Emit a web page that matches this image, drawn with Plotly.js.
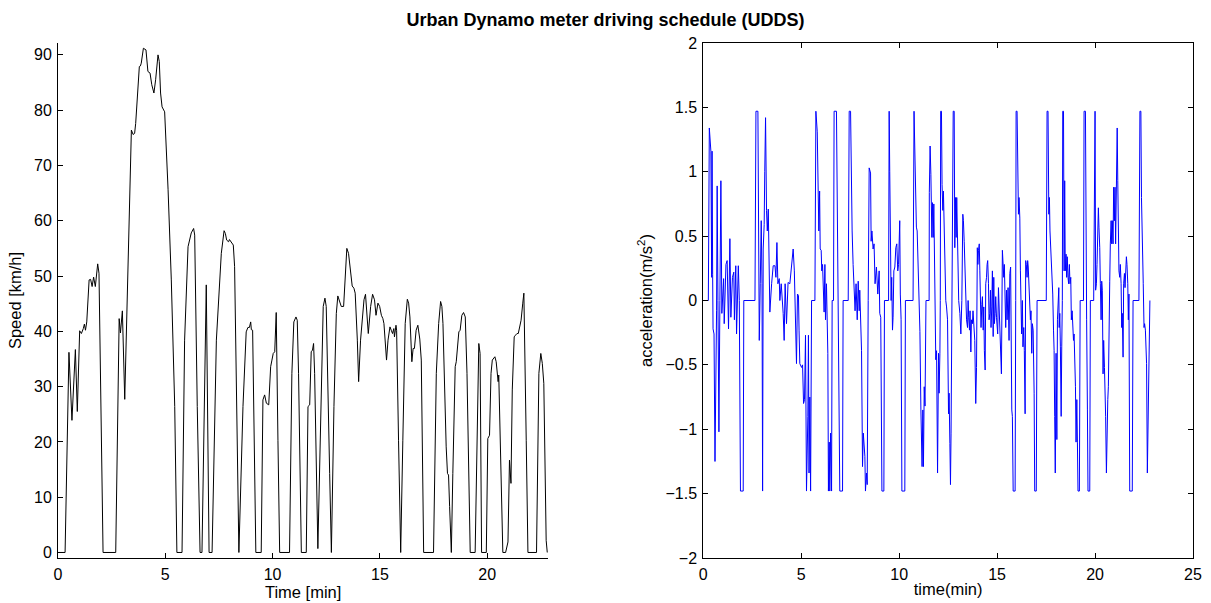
<!DOCTYPE html>
<html>
<head>
<meta charset="utf-8">
<script src="https://cdn.plot.ly/plotly-3.0.1.min.js"></script>
<style>
  html, body { margin: 0; padding: 0; background: #fff; }
  #chart { width: 1211px; height: 603px; }
</style>
</head>
<body>
<div id="chart"></div>
<script>
// UDDS speed trace: time in minutes, speed in km/h
const speedTimeMin = [
  0, 0.33, 0.51, 0.65, 0.81, 0.90, 1.01, 1.09, 1.18, 1.23, 1.28, 1.34, 1.45, 1.52, 1.59, 1.66, 1.74, 1.85, 1.91, 2.10,
  2.69, 2.85, 2.91, 3.00, 3.11, 3.42, 3.50, 3.57, 3.62, 3.73, 3.79, 3.84, 3.88, 3.98, 4.10, 4.19, 4.29, 4.37, 4.47, 4.55,
  4.66, 4.72, 4.78, 4.85, 4.97, 5.13, 5.28, 5.44, 5.54, 5.78, 5.90, 6.06, 6.10, 6.15, 6.21, 6.32, 6.37, 6.49, 6.62, 6.71,
  6.91, 7.04, 7.18, 7.38, 7.61, 7.74, 7.80, 7.86, 7.95, 7.99, 8.08, 8.17, 8.23, 8.36, 8.43, 8.62, 8.77, 8.85, 8.92, 8.98,
  9.01, 9.07, 9.16, 9.22, 9.47, 9.55, 9.63, 9.71, 9.82, 9.91, 9.97, 10.03, 10.10, 10.17, 10.25, 10.33, 10.79, 10.90, 10.99, 11.09,
  11.15, 11.21, 11.34, 11.57, 11.65, 11.73, 11.80, 11.86, 11.91, 11.96, 12.11, 12.27, 12.36, 12.44, 12.50, 12.66, 12.74, 12.86, 12.97, 13.04,
  13.12, 13.20, 13.31, 13.39, 13.46, 13.54, 13.63, 13.71, 13.79, 13.85, 13.95, 14.01, 14.10, 14.18, 14.26, 14.33, 14.39, 14.46, 14.57, 14.66,
  14.75, 14.82, 14.91, 14.99, 15.07, 15.14, 15.19, 15.25, 15.31, 15.38, 15.47, 15.53, 15.59, 15.65, 15.68, 15.75, 15.78, 15.87, 15.97, 16.07,
  16.18, 16.28, 16.34, 16.40, 16.49, 16.55, 16.61, 16.69, 16.77, 16.86, 16.93, 17.04, 17.50, 17.63, 17.74, 17.83, 17.89, 17.94, 18.02, 18.09,
  18.15, 18.20, 18.25, 18.33, 18.40, 18.51, 18.56, 18.63, 18.68, 18.74, 18.82, 18.90, 18.98, 19.06, 19.15, 19.21, 19.44, 19.61, 19.67, 19.74,
  19.96, 20.03, 20.11, 20.18, 20.24, 20.30, 20.36, 20.42, 20.48, 20.51, 20.54, 20.65, 20.73, 20.86, 20.92, 20.97, 21.04, 21.11, 21.17, 21.26,
  21.32, 21.39, 21.45, 21.51, 21.58, 21.66, 21.71, 21.82, 21.90, 22.30, 22.41, 22.50, 22.57, 22.64, 22.75, 22.80
];
const speedKmh = [
  0, 0, 36.2, 23.9, 36.7, 25.5, 40.1, 39.6, 40.5, 41.3, 40.2, 41.7, 49.3, 49.4, 48.1, 49.8, 48.1, 52.2, 50.5, 0,
  0, 42.3, 39.7, 43.7, 27.7, 76.4, 75.6, 75.8, 77.6, 83.7, 87.9, 88.0, 88.5, 91.2, 90.9, 87.0, 86.7, 84.6, 83.1, 85.5,
  90.0, 88.8, 83.1, 80.6, 79.7, 65.6, 49.3, 26.4, 0, 0, 38.4, 55.3, 55.9, 56.5, 57.8, 58.6, 57.4, 26.4, 0, 0,
  48.4, 0, 0, 38.4, 54.1, 58.2, 57.7, 56.5, 56.2, 56.6, 56.0, 55.6, 51.7, 20.3, 0, 26.4, 39.9, 40.7, 40.7, 41.7,
  40.3, 40.2, 20.3, 0, 0, 27.6, 28.5, 27.0, 26.7, 33.6, 34.8, 36.0, 36.3, 43.4, 20.3, 0, 0, 32.4, 41.7, 42.6,
  42.0, 32.4, 0, 0, 26.4, 26.7, 36.3, 36.6, 37.8, 32.4, 0.7, 32.4, 44.5, 46.0, 44.5, 14.3, 0, 26.4, 43.2, 46.4,
  45.4, 44.5, 44.5, 50.5, 55.0, 54.1, 51.1, 48.2, 47.8, 46.9, 38.4, 30.9, 38.4, 42.6, 45.7, 46.7, 43.8, 39.6, 44.5, 46.7,
  45.7, 42.9, 45.1, 44.5, 42.9, 42.3, 41.4, 38.4, 34.8, 38.4, 40.8, 40.2, 39.6, 40.5, 39.0, 41.1, 40.2, 20.3, 0, 20.3,
  41.4, 45.8, 45.1, 42.6, 34.5, 36.9, 36.9, 40.2, 41.1, 38.6, 34.8, 0, 0, 32.4, 41.4, 45.4, 44.5, 41.4, 26.4, 19.1,
  14.3, 14.0, 8.3, 0, 14.3, 33.6, 34.5, 38.4, 39.9, 40.2, 42.9, 43.4, 42.6, 32.4, 14.3, 0, 0, 37.8, 36.0, 0,
  0, 20.6, 21.2, 32.4, 34.8, 35.1, 35.4, 34.5, 32.1, 30.9, 32.1, 14.3, 0, 0, 1.3, 1.9, 16.7, 12.5, 29.4, 39.0,
  39.3, 39.6, 39.6, 40.8, 42.0, 45.1, 46.9, 20.3, 0, 0, 32.4, 36.0, 34.2, 30.6, 2.2, 0
];

// Acceleration trace: time in minutes, acceleration in m/s^2
const accelTimeMin = [
  0, 0.26, 0.31, 0.34, 0.39, 0.43, 0.45, 0.48, 0.50, 0.55, 0.60, 0.68, 0.71, 0.75, 0.80, 0.85, 0.90, 0.95, 1.00, 1.04,
  1.07, 1.12, 1.16, 1.22, 1.29, 1.36, 1.41, 1.49, 1.56, 1.59, 1.66, 1.70, 1.79, 1.84, 1.90, 2.04, 2.07, 2.64, 2.69, 2.79,
  2.83, 2.86, 2.91, 2.96, 3.00, 3.03, 3.06, 3.11, 3.14, 3.18, 3.23, 3.27, 3.32, 3.37, 3.40, 3.49, 3.57, 3.66, 3.71, 3.76,
  3.81, 3.88, 3.91, 3.98, 4.08, 4.13, 4.18, 4.25, 4.33, 4.42, 4.50, 4.59, 4.65, 4.70, 4.76, 4.81, 4.86, 4.89, 4.93, 5.02,
  5.07, 5.12, 5.17, 5.22, 5.27, 5.34, 5.37, 5.40, 5.44, 5.48, 5.53, 5.70, 5.75, 5.82, 5.87, 5.90, 5.94, 5.97, 6.02, 6.05,
  6.09, 6.12, 6.17, 6.21, 6.24, 6.29, 6.36, 6.39, 6.43, 6.46, 6.50, 6.55, 6.58, 6.65, 6.68, 6.80, 6.84, 6.87, 6.90, 6.97,
  7.11, 7.14, 7.40, 7.45, 7.52, 7.55, 7.60, 7.65, 7.70, 7.75, 7.80, 7.86, 7.91, 7.96, 7.99, 8.04, 8.08, 8.13, 8.17, 8.25,
  8.28, 8.33, 8.37, 8.42, 8.47, 8.54, 8.57, 8.61, 8.64, 8.67, 8.72, 8.77, 8.84, 8.91, 8.98, 9.01, 9.06, 9.12, 9.22, 9.25,
  9.46, 9.49, 9.52, 9.56, 9.59, 9.62, 9.66, 9.69, 9.73, 9.78, 9.83, 9.88, 9.93, 9.97, 10.03, 10.06, 10.10, 10.14, 10.29, 10.32,
  10.71, 10.76, 10.81, 10.85, 10.88, 10.92, 10.97, 11.02, 11.06, 11.11, 11.17, 11.21, 11.24, 11.28, 11.32, 11.37, 11.53, 11.54, 11.58, 11.62,
  11.65, 11.67, 11.70, 11.74, 11.77, 11.80, 11.83, 11.87, 11.91, 11.96, 12.01, 12.04, 12.08, 12.10, 12.12, 12.16, 12.19, 12.23, 12.26, 12.31,
  12.35, 12.38, 12.42, 12.47, 12.52, 12.55, 12.59, 12.62, 12.65, 12.70, 12.76, 12.81, 12.84, 12.88, 12.91, 12.94, 12.98, 13.01, 13.04, 13.10,
  13.15, 13.20, 13.25, 13.28, 13.32, 13.35, 13.39, 13.42, 13.44, 13.49, 13.52, 13.55, 13.59, 13.62, 13.66, 13.69, 13.74, 13.77, 13.83, 13.86,
  13.91, 13.95, 13.99, 14.02, 14.05, 14.09, 14.12, 14.15, 14.18, 14.22, 14.25, 14.29, 14.32, 14.35, 14.39, 14.42, 14.46, 14.49, 14.52, 14.56,
  14.59, 14.63, 14.66, 14.69, 14.73, 14.76, 14.80, 14.83, 14.86, 14.90, 14.93, 14.97, 15.03, 15.07, 15.14, 15.19, 15.22, 15.27, 15.31, 15.34,
  15.37, 15.41, 15.44, 15.48, 15.51, 15.56, 15.61, 15.65, 15.69, 15.75, 15.78, 15.82, 15.92, 15.95, 15.97, 16.02, 16.05, 16.09, 16.12, 16.16,
  16.19, 16.22, 16.25, 16.29, 16.32, 16.36, 16.39, 16.43, 16.46, 16.49, 16.53, 16.56, 16.59, 16.63, 16.66, 16.70, 16.73, 16.77, 16.80, 16.84,
  16.89, 16.92, 17.00, 17.04, 17.51, 17.55, 17.60, 17.64, 17.67, 17.70, 17.74, 17.77, 17.81, 17.84, 17.88, 17.91, 17.94, 17.97, 18.01, 18.05,
  18.08, 18.12, 18.15, 18.17, 18.20, 18.23, 18.27, 18.30, 18.33, 18.35, 18.39, 18.42, 18.45, 18.48, 18.52, 18.55, 18.58, 18.62, 18.65, 18.69,
  18.72, 18.76, 18.79, 18.83, 18.86, 18.90, 18.93, 18.97, 19.00, 19.03, 19.07, 19.10, 19.13, 19.20, 19.24, 19.41, 19.44, 19.51, 19.54, 19.57,
  19.61, 19.64, 19.73, 19.76, 19.93, 19.97, 20.00, 20.03, 20.07, 20.10, 20.14, 20.17, 20.20, 20.24, 20.27, 20.31, 20.34, 20.37, 20.41, 20.44,
  20.48, 20.51, 20.54, 20.58, 20.61, 20.65, 20.68, 20.71, 20.75, 20.78, 20.82, 20.85, 20.88, 20.92, 20.95, 20.99, 21.02, 21.05, 21.09, 21.13,
  21.16, 21.19, 21.22, 21.26, 21.29, 21.33, 21.36, 21.39, 21.43, 21.46, 21.50, 21.53, 21.56, 21.60, 21.63, 21.67, 21.70, 21.73, 21.77, 21.90,
  21.94, 22.24, 22.29, 22.34, 22.37, 22.40, 22.43, 22.46, 22.50, 22.53, 22.57, 22.60, 22.63, 22.67, 22.70, 22.74, 22.77, 22.80
];
const accelMs2 = [
  0, 0, 1.34, 1.29, 1.16, 0.18, 1.16, 0.20, -0.22, -0.26, -1.25, -0.08, 0.89, 0, -1.02, 0, 0.93, -0.10, 0.08, 0.17,
  -0.18, 0.22, 0.28, 0.31, -0.22, 0.48, -0.13, 0.18, 0.22, -0.15, 0.27, -0.26, 0.27, 0, -1.48, -1.48, 0, 0, 1.47, 1.47,
  0.28, -0.31, 0.13, 0.62, 0.13, -1.48, 0.40, 0.59, 1.00, 1.42, 0.70, 0.54, 0.71, 0.28, -0.09, 0.13, 0.27, 0.27, 0.18, 0.45,
  0.13, 0.17, 0, 0.13, -0.10, -0.31, 0.13, -0.18, 0.14, 0.13, 0.27, 0.40, 0.23, -0.15, -0.49, 0.05, 0.04, -0.23, -0.49, -0.52,
  -0.50, -0.80, -0.77, -0.27, -1.48, -0.90, -0.27, -1.34, -0.75, -1.48, 0, 0, 1.47, 1.31, 0.85, 0.54, 0.85, 0.40, 0.39, 0.23,
  0.28, 0.13, -0.09, 0.28, -0.15, 0.13, -0.41, -1.48, -1.10, -1.48, -1.03, -1.48, 0, 0, 1.47, 1.47, 0.85, 0.28, -0.15, -1.48,
  -1.48, 0, 0, 1.47, 1.47, 1.00, 0.54, 0.28, 0.10, -0.08, 0.13, -0.15, 0.15, -0.08, 0.08, -0.18, -0.39, -1.29, -1.03, -1.21,
  -1.48, -1.34, -1.43, 0, 1.03, 0.99, 0.46, 0.54, 0.46, 0.40, 0.44, 0.13, 0.26, 0.05, 0.23, -0.10, -0.13, -1.48, -1.48, 0,
  0, 1.47, 1.00, 0.28, 0, 0.18, -0.23, -0.13, 0.23, 0.26, 0.41, 0.44, 0.23, 0.28, 0.62, 0.05, -0.15, -1.48, -1.48, 0,
  0, 1.47, 1.06, 0.98, 0.57, 0.54, 0.18, 0.08, -0.24, -0.85, -1.29, -0.85, -1.29, -0.67, -0.82, 0, 0, 0.84, 1.20, 0.98,
  0.80, 0.49, 0.76, 0.49, 0.75, 0.28, 0.13, -0.46, -0.39, -1.34, -0.41, -0.72, -0.41, 0, 1.47, 1.47, 0.90, 0.70, 0.85, 0.39,
  0.18, 0, -0.05, -0.15, -0.88, -0.72, -1.11, -1.43, -1.03, 0, 1.47, 1.47, 0.41, 0.80, 0.49, 0.80, 0.28, 0.26, 0, -0.10,
  -0.26, 0, 0.67, 0.62, 0.46, 0.28, 0.26, 0, -0.15, -0.21, 0, -0.13, -0.23, -0.08, -0.40, -0.15, -0.18, -0.08, -0.30, -0.31,
  -0.80, -0.52, 0.41, 0.28, 0.39, 0.44, 0.23, 0, -0.21, -0.03, 0.03, -0.23, -0.05, -0.39, -0.54, 0.13, 0.18, 0.28, 0.31, 0.13,
  -0.15, -0.10, 0.08, -0.21, -0.05, 0.23, -0.28, 0.18, -0.18, -0.10, 0.03, -0.13, -0.26, 0.10, -0.15, -0.34, -0.57, 0.39, 0.23, 0.18,
  0.28, -0.10, -0.21, 0.08, -0.15, 0.10, -0.31, 0.21, 0.26, -0.85, -0.90, -1.48, -1.48, 0, 1.47, 1.47, 0.95, 0.67, 0.80, 0.64,
  0.23, 0.03, -0.26, 0, -0.36, -0.21, -0.39, -0.88, 0.31, 0.28, 0.18, 0.31, 0.26, 0.13, 0.03, -0.15, -0.08, -0.41, -0.18, -0.23,
  -0.72, -1.48, -1.48, 0, 0, 1.47, 1.47, 0.67, 0.80, 0.54, 0.39, 0.28, 0.26, 0.05, -0.23, -0.39, -0.90, -1.34, -0.41, -1.08,
  -0.15, 0.08, 0.10, -0.21, -0.10, -0.36, -0.90, -0.36, 0, 1.47, 1.47, 0.23, 0.93, 0.23, 0.36, 0.18, 0.34, 0.18, 0.13, 0.28,
  0.13, 0.18, -0.15, -0.08, -0.21, -0.31, -0.26, -0.46, -0.67, -1.10, -0.77, -1.10, -1.48, -1.48, 0, 0, 1.47, 1.47, 0, -0.15,
  -0.85, -1.48, -1.48, 0, 0, 1.47, 1.47, 0.08, 0.13, 0.28, 0.49, 0.72, 0.57, 0.41, 0.13, -0.15, 0.15, 0.08, -0.57, -0.31,
  -0.52, -0.64, -0.90, -1.34, -0.90, -0.77, -0.67, -0.08, 0.15, 0.44, 0.62, 0.44, 0.62, 0.44, 0.88, 0.62, 0.88, 0.44, 0.75, 1.34,
  0.93, 0.49, 0.23, 0.18, 0.28, 0.13, -0.21, -0.10, -0.44, 0.13, 0.21, 0.10, 0.18, 0.34, 0.28, 0.13, -0.15, 0.05, -1.48, -1.48,
  0, 0, 1.47, 1.47, 0.80, 0.44, 0.34, 0.13, -0.21, -0.18, -0.23, -0.46, -0.49, -1.34, -0.98, -0.62, -0.03, 0
];

// Axis ticks
const speedTickVals = [0, 10, 20, 30, 40, 50, 60, 70, 80, 90];
const timeTickValsLeft = [0, 5, 10, 15, 20];
const timeTickValsRight = [0, 5, 10, 15, 20, 25];
const accelTickVals = [-2, -1.5, -1, -0.5, 0, 0.5, 1, 1.5, 2];

const FONT = 'Liberation Sans, Arial, Helvetica, sans-serif';
const TICK_SIZE = 16;
const LABEL_SIZE = 16.5;
const TITLE_SIZE = 18;

const traces = [
  {
    x: speedTimeMin, y: speedKmh, type: 'scatter', mode: 'lines',
    line: { color: '#000000', width: 1 },
    xaxis: 'x', yaxis: 'y', hoverinfo: 'x+y', showlegend: false
  },
  {
    x: accelTimeMin, y: accelMs2, type: 'scatter', mode: 'lines',
    line: { color: '#0000ff', width: 1 },
    xaxis: 'x2', yaxis: 'y2', hoverinfo: 'x+y', showlegend: false
  }
];

const labelFont = { family: FONT, size: LABEL_SIZE, color: '#000' };

const axisCommon = {
  showgrid: false, zeroline: false, showline: true,
  linecolor: '#000', linewidth: 1,
  ticks: 'inside', ticklen: 5, tickcolor: '#000', tickwidth: 1,
  tickfont: { family: FONT, size: TICK_SIZE, color: '#000' }
};

const layout = {
  width: 1211, height: 603,
  margin: { l: 58, r: 18, t: 43, b: 45 },
  paper_bgcolor: '#fff', plot_bgcolor: '#fff',
  font: { family: FONT, size: TICK_SIZE, color: '#000' },
  title: {
    text: '<b>Urban Dynamo meter driving schedule (UDDS)</b>',
    font: { family: FONT, size: TITLE_SIZE, color: '#000' },
    xref: 'container', x: 0.5, xanchor: 'center',
    yref: 'container', y: 0.967, yanchor: 'middle'
  },
  xaxis: Object.assign({}, axisCommon, {
    domain: [0, 0.432], range: [0, 22.85],
    tickmode: 'array', tickvals: timeTickValsLeft,
    ticklabelstandoff: 2,
    title: { text: 'Time [min]', font: labelFont, standoff: 1 }
  }),
  yaxis: Object.assign({}, axisCommon, {
    domain: [0, 1], range: [-1.0, 92.15],
    tickmode: 'array', tickvals: speedTickVals,
    ticklabelstandoff: 2,
    title: { text: 'Speed [km/h]', font: labelFont, standoff: 8 }
  }),
  xaxis2: Object.assign({}, axisCommon, {
    domain: [0.5685, 1], range: [0, 25], anchor: 'y2',
    mirror: 'ticks',
    tickmode: 'array', tickvals: timeTickValsRight,
    ticklabelstandoff: 2,
    title: { text: 'time(min)', font: labelFont, standoff: 1 }
  }),
  yaxis2: Object.assign({}, axisCommon, {
    domain: [0, 1], range: [-2, 2], anchor: 'x2',
    mirror: 'ticks',
    tickmode: 'array', tickvals: accelTickVals,
    ticklabelstandoff: 2,
    title: { text: 'acceleration(m/s<sup>2</sup>)', font: labelFont, standoff: 8 }
  })
};

Plotly.newPlot('chart', traces, layout, { displayModeBar: false, staticPlot: true });
</script>
</body>
</html>
